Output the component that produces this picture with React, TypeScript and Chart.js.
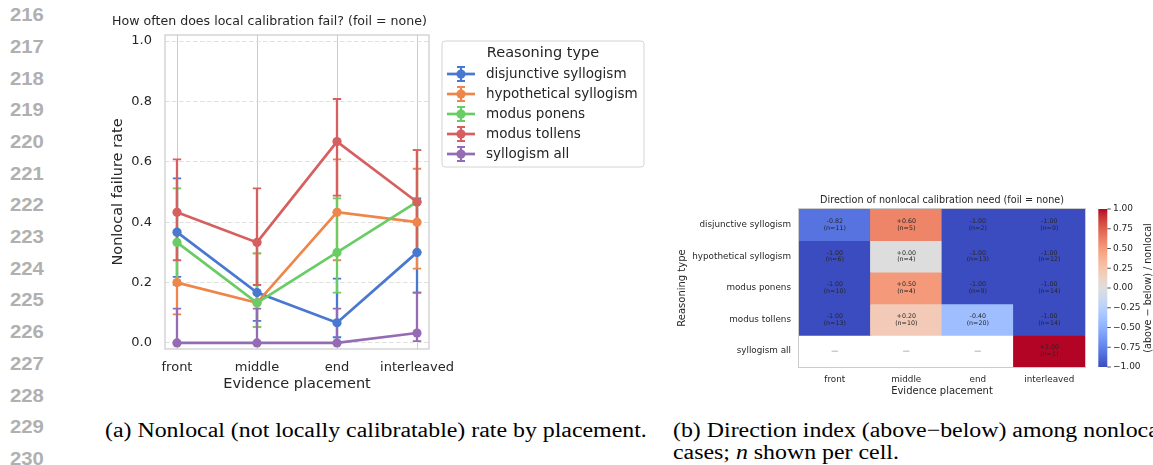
import React, { useEffect, useRef } from 'react';
import { Chart, registerables } from 'chart.js';

Chart.register(...registerables);

const FONT = '"DejaVu Sans", "Noto Sans", sans-serif';
const INK = '#262626';

// ---------- chart (a): nonlocal failure rate ----------
const placements = ['front', 'middle', 'end', 'interleaved'];
const reasoningTypes = ['disjunctive syllogism', 'hypothetical syllogism', 'modus ponens', 'modus tollens', 'syllogism all'];
const yTickValues = [0, 0.2, 0.4, 0.6, 0.8, 1.0];

const disjunctiveRate = [0.367, 0.167, 0.067, 0.3];
const disjunctiveLow = [0.219, 0.073, 0.019, 0.167];
const disjunctiveHigh = [0.545, 0.336, 0.213, 0.479];

const hypotheticalRate = [0.2, 0.133, 0.433, 0.4];
const hypotheticalLow = [0.095, 0.053, 0.274, 0.246];
const hypotheticalHigh = [0.373, 0.297, 0.608, 0.577];

const ponensRate = [0.333, 0.133, 0.3, 0.467];
const ponensLow = [0.192, 0.053, 0.167, 0.302];
const ponensHigh = [0.512, 0.297, 0.479, 0.639];

const tollensRate = [0.433, 0.333, 0.667, 0.467];
const tollensLow = [0.274, 0.192, 0.488, 0.302];
const tollensHigh = [0.608, 0.512, 0.808, 0.639];

const syllogismAllRate = [0, 0, 0, 0.033];
const syllogismAllLow = [0, 0, 0, 0.006];
const syllogismAllHigh = [0.114, 0.114, 0.114, 0.167];

const seriesColors = ['#4878d0', '#ee854a', '#6acc64', '#d65f5f', '#956cb4'];
const rateSeries = [disjunctiveRate, hypotheticalRate, ponensRate, tollensRate, syllogismAllRate];
const lowSeries = [disjunctiveLow, hypotheticalLow, ponensLow, tollensLow, syllogismAllLow];
const highSeries = [disjunctiveHigh, hypotheticalHigh, ponensHigh, tollensHigh, syllogismAllHigh];

const lineTitle = 'How often does local calibration fail? (foil = none)';
const legendTitle = 'Reasoning type';

// ---------- chart (b): direction heatmap ----------
const heatDisjunctive = [-0.82, 0.6, -1.0, -1.0];
const countDisjunctive = [11, 5, 2, 9];
const heatHypothetical = [-1.0, 0.0, -1.0, -1.0];
const countHypothetical = [6, 4, 13, 12];
const heatPonens = [-1.0, 0.5, -1.0, -1.0];
const countPonens = [10, 4, 9, 14];
const heatTollens = [-1.0, 0.2, -0.4, -1.0];
const countTollens = [13, 10, 20, 14];
const heatSyllogismAll: (number | null)[] = [null, null, null, 1.0];
const countSyllogismAll: (number | null)[] = [null, null, null, 1];

const heatValues: (number | null)[][] = [heatDisjunctive, heatHypothetical, heatPonens, heatTollens, heatSyllogismAll];
const heatCounts: (number | null)[][] = [countDisjunctive, countHypothetical, countPonens, countTollens, countSyllogismAll];
const colorbarTicks = [1, 0.75, 0.5, 0.25, 0, -0.25, -0.5, -0.75, -1];
const cbMin = -1;
const cbMax = 1;
const heatTitle = 'Direction of nonlocal calibration need (foil = none)';
const colorbarLabel = '(above \u2212 below) / nonlocal';

// matplotlib "coolwarm" (Moreland) samples
const coolwarmStops: number[][] = [
  [59, 76, 192], [68, 90, 204], [77, 104, 215], [87, 117, 225], [98, 130, 234], [108, 142, 241],
  [119, 154, 247], [130, 165, 251], [141, 176, 254], [152, 185, 255], [163, 194, 255], [174, 201, 253],
  [184, 208, 249], [194, 213, 244], [204, 217, 238], [213, 219, 230], [221, 221, 221], [229, 216, 209],
  [236, 211, 197], [241, 204, 185], [245, 196, 173], [247, 187, 160], [247, 177, 148], [247, 166, 135],
  [244, 154, 123], [241, 141, 111], [236, 127, 99], [229, 112, 88], [222, 96, 77], [213, 80, 66],
  [203, 62, 56], [192, 40, 47], [180, 4, 38],
];

const lineNumbers = [216, 217, 218, 219, 220, 221, 222, 223, 224, 225, 226, 227, 228, 229, 230];

function rgb(c: number[]) {
  return `rgb(${c[0]},${c[1]},${c[2]})`;
}
function coolwarm(v: number) {
  const t = Math.min(1, Math.max(0, (v - cbMin) / (cbMax - cbMin)));
  const pos = t * (coolwarmStops.length - 1);
  const i = Math.min(Math.floor(pos), coolwarmStops.length - 2);
  const f = pos - i;
  const a = coolwarmStops[i];
  const b = coolwarmStops[i + 1];
  return rgb(a.map((x, k) => Math.round(x + (b[k] - x) * f)));
}
const fmtDir = (v: number) => (v >= 0 ? '+' : '-') + Math.abs(v).toFixed(2);
const fmtCb = (v: number) => (v < 0 ? '\u2212' : '') + Math.abs(v).toFixed(2);

function zeroPad(ax: any) {
  ax.paddingTop = 0;
  ax.paddingBottom = 0;
  ax.paddingLeft = 0;
  ax.paddingRight = 0;
}

// ---------- plugins for chart (a) ----------
const errorBarPlugin = {
  id: 'errorBars',
  beforeDatasetsDraw(chart: any) {
    const { ctx, scales } = chart;
    const xs = scales.x;
    const ys = scales.y;
    ctx.save();
    rateSeries.forEach((series, i) => {
      ctx.strokeStyle = seriesColors[i];
      series.forEach((_, j) => {
        const px = xs.getPixelForValue(j);
        const yl = ys.getPixelForValue(lowSeries[i][j]);
        const yh = ys.getPixelForValue(highSeries[i][j]);
        ctx.lineWidth = 2.3;
        ctx.beginPath();
        ctx.moveTo(px, yl);
        ctx.lineTo(px, yh);
        ctx.stroke();
        ctx.lineWidth = 1.8;
        ctx.beginPath();
        ctx.moveTo(px - 4.2, yl);
        ctx.lineTo(px + 4.2, yl);
        ctx.moveTo(px - 4.2, yh);
        ctx.lineTo(px + 4.2, yh);
        ctx.stroke();
      });
    });
    ctx.restore();
  },
};

const lineDecorPlugin = {
  id: 'lineDecor',
  afterDraw(chart: any) {
    const { ctx, chartArea: a } = chart;
    ctx.save();
    ctx.strokeStyle = '#cccccc';
    ctx.lineWidth = 1.25;
    ctx.strokeRect(a.left, a.top, a.right - a.left, a.bottom - a.top);

    ctx.fillStyle = INK;
    ctx.font = `12.6px ${FONT}`;
    ctx.textAlign = 'center';
    ctx.textBaseline = 'middle';
    ctx.fillText(lineTitle, 169.5, 22);

    // legend
    const lx = 342, ly = 41, lw = 202, lh = 126, r = 3;
    ctx.beginPath();
    ctx.moveTo(lx + r, ly);
    ctx.lineTo(lx + lw - r, ly);
    ctx.quadraticCurveTo(lx + lw, ly, lx + lw, ly + r);
    ctx.lineTo(lx + lw, ly + lh - r);
    ctx.quadraticCurveTo(lx + lw, ly + lh, lx + lw - r, ly + lh);
    ctx.lineTo(lx + r, ly + lh);
    ctx.quadraticCurveTo(lx, ly + lh, lx, ly + lh - r);
    ctx.lineTo(lx, ly + r);
    ctx.quadraticCurveTo(lx, ly, lx + r, ly);
    ctx.closePath();
    ctx.fillStyle = 'rgba(255,255,255,0.85)';
    ctx.fill();
    ctx.strokeStyle = '#d4d4d4';
    ctx.lineWidth = 1;
    ctx.stroke();

    ctx.fillStyle = INK;
    ctx.font = `14.5px ${FONT}`;
    ctx.textAlign = 'center';
    ctx.fillText(legendTitle, lx + lw / 2, 53.5);

    chart.data.datasets.forEach((ds: any, i: number) => {
      const cy = 74 + 20 * i;
      const c = seriesColors[i];
      ctx.strokeStyle = c;
      ctx.fillStyle = c;
      ctx.lineWidth = 2.7;
      ctx.beginPath();
      ctx.moveTo(347, cy);
      ctx.lineTo(375, cy);
      ctx.stroke();
      ctx.lineWidth = 2.2;
      ctx.beginPath();
      ctx.moveTo(361, cy - 7);
      ctx.lineTo(361, cy + 7);
      ctx.stroke();
      ctx.lineWidth = 1.8;
      ctx.beginPath();
      ctx.moveTo(357, cy - 7);
      ctx.lineTo(365, cy - 7);
      ctx.moveTo(357, cy + 7);
      ctx.lineTo(365, cy + 7);
      ctx.stroke();
      ctx.beginPath();
      ctx.arc(361, cy, 4.6, 0, Math.PI * 2);
      ctx.fill();
      ctx.fillStyle = INK;
      ctx.font = `13.5px ${FONT}`;
      ctx.textAlign = 'left';
      ctx.fillText(ds.label, 386, cy);
    });
    ctx.restore();
  },
};

// ---------- plugin for chart (b) ----------
const heatDecorPlugin = {
  id: 'heatDecor',
  afterDatasetsDraw(chart: any) {
    const { ctx, chartArea: a, scales } = chart;
    const xs = scales.x;
    const ys = scales.y;
    const cb = scales.cb;
    ctx.save();
    ctx.textAlign = 'center';
    ctx.textBaseline = 'middle';
    heatValues.forEach((row, i) => {
      row.forEach((v, j) => {
        const px = xs.getPixelForValue(j);
        const py = ys.getPixelForValue(i + 0.5);
        if (v === null) {
          ctx.fillStyle = '#666666';
          ctx.font = `7px ${FONT}`;
          ctx.fillText('\u2014', px, py);
        } else {
          ctx.fillStyle = INK;
          ctx.font = `6.3px ${FONT}`;
          ctx.fillText(fmtDir(v), px, py - 3.4);
          ctx.fillText(`(n=${heatCounts[i][j]})`, px, py + 3.4);
        }
      });
    });

    ctx.strokeStyle = '#cccccc';
    ctx.lineWidth = 1;
    ctx.strokeRect(a.left - 0.5, a.top - 0.5, a.right - a.left + 1, a.bottom - a.top + 1);

    ctx.fillStyle = INK;
    ctx.font = `9.65px ${FONT}`;
    ctx.fillText(heatTitle, (a.left + a.right) / 2, a.top - 8.5);

    // colorbar
    const cbL = a.right + 13.3;
    const cbR = a.right + 22.3;
    const top = cb.getPixelForValue(cbMax);
    const bot = cb.getPixelForValue(cbMin);
    const n = coolwarmStops.length;
    const g = ctx.createLinearGradient(0, top, 0, bot);
    coolwarmStops.forEach((_, k) => g.addColorStop(k / (n - 1), rgb(coolwarmStops[n - 1 - k])));
    ctx.fillStyle = g;
    ctx.fillRect(cbL, top, cbR - cbL, bot - top);
    ctx.strokeStyle = INK;
    ctx.lineWidth = 0.8;
    colorbarTicks.forEach((v) => {
      const y = cb.getPixelForValue(v);
      ctx.beginPath();
      ctx.moveTo(cbR, y);
      ctx.lineTo(cbR + 3.5, y);
      ctx.stroke();
    });

    ctx.translate(a.right + 63, (a.top + a.bottom) / 2);
    ctx.rotate(-Math.PI / 2);
    ctx.fillStyle = INK;
    ctx.font = `9.65px ${FONT}`;
    ctx.fillText(colorbarLabel, 0, 0);
    ctx.restore();
  },
};

function LineChartA() {
  const ref = useRef<HTMLCanvasElement>(null);
  useEffect(() => {
    const datasets = rateSeries.map((series, i) => ({
      label: reasoningTypes[i],
      data: series.map((v, j) => ({ x: j, y: v })),
      borderColor: seriesColors[i],
      backgroundColor: seriesColors[i],
      pointBackgroundColor: seriesColors[i],
      pointBorderWidth: 0,
      pointRadius: 4.6,
      borderWidth: 2.7,
      tension: 0,
      order: rateSeries.length - i,
    }));
    const chart = new Chart(ref.current as HTMLCanvasElement, {
      type: 'line',
      data: { datasets },
      plugins: [errorBarPlugin, lineDecorPlugin],
      options: {
        responsive: false,
        animation: false,
        events: [],
        layout: { padding: { left: 0, top: 35, right: 221, bottom: 0 } },
        plugins: { legend: { display: false }, tooltip: { enabled: false }, title: { display: false } },
        scales: {
          x: {
            type: 'linear',
            min: -0.15,
            max: 3.15,
            afterBuildTicks: (ax: any) => {
              ax.ticks = placements.map((_, i) => ({ value: i }));
            },
            afterFit: (ax: any) => {
              ax.height = 51;
              zeroPad(ax);
            },
            grid: { color: '#cccccc', lineWidth: 1, drawTicks: false },
            border: { display: false },
            ticks: {
              padding: 11,
              color: INK,
              autoSkip: false,
              maxRotation: 0,
              font: { family: FONT, size: 13 },
              callback: (v: any) => placements[Number(v)] ?? '',
            },
            title: {
              display: true,
              text: 'Evidence placement',
              color: INK,
              font: { family: FONT, size: 14.5 },
              padding: { top: 0, bottom: 7 },
            },
          },
          y: {
            type: 'linear',
            min: -0.02,
            max: 1.02,
            afterBuildTicks: (ax: any) => {
              ax.ticks = yTickValues.map((v) => ({ value: v }));
            },
            afterFit: (ax: any) => {
              ax.width = 65;
              zeroPad(ax);
            },
            grid: { color: '#e0e0e0', lineWidth: 1, drawTicks: false },
            border: { display: false, dash: [4.5, 2.5] },
            ticks: {
              padding: 13,
              color: INK,
              autoSkip: false,
              font: { family: FONT, size: 13 },
              callback: (v: any) => Number(v).toFixed(1),
            },
            title: {
              display: true,
              text: 'Nonlocal failure rate',
              color: INK,
              font: { family: FONT, size: 14.5 },
              padding: { top: 9.3, bottom: 0 },
            },
          },
        },
      } as any,
    });
    return () => chart.destroy();
  }, []);
  return (
    <canvas
      ref={ref}
      width={550}
      height={400}
      style={{ position: 'absolute', left: 100, top: 0, width: 550, height: 400 }}
    />
  );
}

function HeatmapB() {
  const ref = useRef<HTMLCanvasElement>(null);
  useEffect(() => {
    const datasets = reasoningTypes.map((name, i) => ({
      label: name,
      data: heatValues[i].map((v) => (v === null ? null : [i, i + 1])),
      backgroundColor: heatValues[i].map((v) => (v === null ? 'rgba(0,0,0,0)' : coolwarm(v))),
      borderWidth: 0,
      categoryPercentage: 1,
      barPercentage: 1,
      grouped: false,
      inflateAmount: 0.4,
    }));
    const chart = new Chart(ref.current as HTMLCanvasElement, {
      type: 'bar',
      data: { labels: placements, datasets },
      plugins: [heatDecorPlugin],
      options: {
        responsive: false,
        animation: false,
        events: [],
        layout: { padding: { left: 0, top: 24, right: 0, bottom: 0 } },
        plugins: { legend: { display: false }, tooltip: { enabled: false }, title: { display: false } },
        scales: {
          x: {
            type: 'category',
            offset: true,
            afterFit: (ax: any) => {
              ax.height = 33;
              zeroPad(ax);
            },
            grid: { display: false, drawTicks: false },
            border: { display: false },
            ticks: { padding: 7.5, color: INK, autoSkip: false, maxRotation: 0, font: { family: FONT, size: 8.8 } },
            title: {
              display: true,
              text: 'Evidence placement',
              color: INK,
              font: { family: FONT, size: 10 },
              padding: { top: 0, bottom: 3 },
            },
          },
          y: {
            type: 'linear',
            min: 0,
            max: reasoningTypes.length,
            reverse: true,
            afterBuildTicks: (ax: any) => {
              ax.ticks = reasoningTypes.map((_, i) => ({ value: i + 0.5 }));
            },
            afterFit: (ax: any) => {
              ax.width = 139;
              zeroPad(ax);
            },
            grid: { display: false, drawTicks: false },
            border: { display: false },
            ticks: {
              padding: 8,
              color: INK,
              autoSkip: false,
              font: { family: FONT, size: 8.8 },
              callback: (v: any) => reasoningTypes[Math.floor(Number(v))] ?? '',
            },
            title: {
              display: true,
              text: 'Reasoning type',
              color: INK,
              font: { family: FONT, size: 10 },
              padding: { top: 16.7, bottom: 0 },
            },
          },
          cb: {
            type: 'linear',
            position: 'right',
            min: cbMin,
            max: cbMax,
            afterBuildTicks: (ax: any) => {
              ax.ticks = colorbarTicks.map((v) => ({ value: v }));
            },
            afterFit: (ax: any) => {
              ax.width = 68;
              zeroPad(ax);
            },
            grid: { display: false, drawTicks: false },
            border: { display: false },
            ticks: {
              padding: 28,
              color: INK,
              autoSkip: false,
              font: { family: FONT, size: 9 },
              callback: (v: any) => fmtCb(Number(v)),
            },
          },
        },
      } as any,
    });
    return () => chart.destroy();
  }, []);
  return (
    <canvas
      ref={ref}
      width={493}
      height={215}
      style={{ position: 'absolute', left: 660, top: 185, width: 493, height: 215 }}
    />
  );
}

const captionStyle: React.CSSProperties = {
  position: 'absolute',
  fontFamily: '"Liberation Serif", "Times New Roman", serif',
  fontSize: 20.8,
  lineHeight: '21.8px',
  color: '#000',
  whiteSpace: 'nowrap',
  transform: 'scaleX(1.147)',
  transformOrigin: '0 0',
};

export default function App() {
  return (
    <div
      style={{
        position: 'fixed',
        left: 0,
        top: 0,
        width: 1153,
        height: 465,
        overflow: 'hidden',
        background: '#ffffff',
      }}
    >
      <div
        style={{
          position: 'absolute',
          left: 10,
          top: -0.85,
          fontFamily: '"Liberation Sans", Arial, sans-serif',
          fontWeight: 'bold',
          fontSize: 19,
          lineHeight: '31.7px',
          color: '#b0b0b0',
          transform: 'scaleX(1.07)',
          transformOrigin: '0 0',
        }}
      >
        {lineNumbers.map((n) => (
          <div key={n}>{n}</div>
        ))}
      </div>
      <LineChartA />
      <HeatmapB />
      <div style={{ ...captionStyle, left: 105.3, top: 418.8 }}>
        (a) Nonlocal (not locally calibratable) rate by placement.
      </div>
      <div style={{ ...captionStyle, left: 673.3, top: 418.8 }}>
        <div>(b) Direction index (above{'\u2212'}below) among nonlocal</div>
        <div>
          cases; <i>n</i> shown per cell.
        </div>
      </div>
    </div>
  );
}
